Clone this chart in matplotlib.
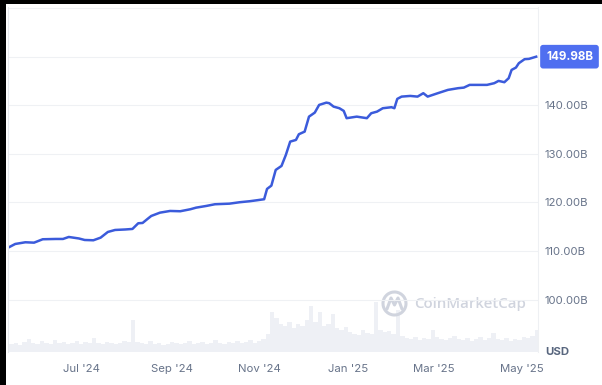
import pandas as pd
import matplotlib
matplotlib.use("Agg")
import matplotlib.pyplot as plt
from matplotlib.patches import Rectangle, Arc

# market cap (billions USD)
dates = ["2024-05-12", "2024-05-16", "2024-05-23", "2024-05-29", "2024-06-04", "2024-06-13",
         "2024-06-18", "2024-06-22", "2024-06-29", "2024-07-03", "2024-07-09", "2024-07-14",
         "2024-07-19", "2024-07-24", "2024-07-31", "2024-08-05", "2024-08-09", "2024-08-12",
         "2024-08-16", "2024-08-18", "2024-08-24", "2024-08-31", "2024-09-07", "2024-09-14",
         "2024-09-18", "2024-09-25", "2024-10-01", "2024-10-11", "2024-10-18", "2024-10-25",
         "2024-10-30", "2024-11-04", "2024-11-06", "2024-11-09", "2024-11-12", "2024-11-16",
         "2024-11-19", "2024-11-22", "2024-11-26", "2024-11-28", "2024-12-02", "2024-12-05",
         "2024-12-09", "2024-12-12", "2024-12-17", "2024-12-19", "2024-12-22", "2024-12-26",
         "2024-12-29", "2024-12-31", "2025-01-07", "2025-01-14", "2025-01-17", "2025-01-21",
         "2025-01-25", "2025-01-31", "2025-02-02", "2025-02-04", "2025-02-07", "2025-02-13",
         "2025-02-18", "2025-02-22", "2025-02-25", "2025-03-04", "2025-03-11", "2025-03-18",
         "2025-03-22", "2025-03-26", "2025-04-02", "2025-04-07", "2025-04-12", "2025-04-15",
         "2025-04-19", "2025-04-22", "2025-04-24", "2025-04-27", "2025-04-29", "2025-05-03",
         "2025-05-06", "2025-05-11"]
market_cap = [110.84, 111.46, 111.81, 111.73, 112.43, 112.49, 112.49, 112.90, 112.59, 112.28,
              112.22, 112.76, 113.93, 114.34, 114.44, 114.55, 115.72, 115.78, 116.75, 117.22,
              117.90, 118.25, 118.19, 118.60, 118.93, 119.28, 119.63, 119.75, 120.04, 120.25,
              120.45, 120.66, 122.78, 123.46, 126.69, 127.51, 129.77, 132.51, 132.86, 134.03,
              134.57, 137.65, 138.48, 140.06, 140.53, 140.41, 139.71, 139.38, 138.83, 137.33,
              137.65, 137.33, 138.35, 138.68, 139.38, 139.59, 139.38, 141.30, 141.77, 141.91,
              141.77, 142.47, 141.77, 142.47, 143.15, 143.50, 143.62, 144.18, 144.18, 144.18,
              144.53, 145.00, 144.73, 145.56, 147.26, 147.74, 148.64, 149.47, 149.53, 149.98]
last_label = "149.98B"

# volume in 3-day buckets starting 2024-05-12 (relative, billions)
volume = [40, 45, 35, 50, 65, 45, 40, 55, 45, 40, 60, 45, 50, 40, 45, 55, 40, 50, 45, 70,
          45, 40, 50, 45, 40, 45, 55, 50, 160,
          50, 45, 40, 55, 40, 45, 35, 40, 50, 45, 40, 45, 55, 40, 45, 50, 40, 45, 60, 45,
          40, 50, 45, 55, 45, 50, 60, 45, 55, 65,
          90, 200, 170, 140, 130, 150, 120, 140, 130, 160, 230, 150, 200, 130, 140, 190,
          120, 110, 125, 100, 90, 85, 110, 95, 90, 250, 110, 100, 105, 90,
          210,
          80, 70, 65, 75, 60, 70, 65, 110, 75, 65, 60, 70, 80, 65, 60, 70, 55, 65, 75, 60,
          70, 95, 65, 60, 70, 55, 65, 60, 75, 70, 80, 110]

y_ticks = [100, 110, 120, 130, 140, 150, 160]
y_labels = ["100.00B", "110.00B", "120.00B", "130.00B", "140.00B", "", ""]
x_ticks = ["2024-07-01", "2024-09-01", "2024-11-01", "2025-01-01", "2025-03-01", "2025-05-01"]
x_labels = ["Jul '24", "Sep '24", "Nov '24", "Jan '25", "Mar '25", "May '25"]

LINE = "#3b5bdb"
GRAY = "#68748a"
FONT = "Inter"

fig = plt.figure(figsize=(6.02, 3.85), dpi=100)
ax = fig.add_axes([8 / 602, 33 / 385, 530 / 602, 345 / 385])
ax2 = ax.twinx()
ax.set_zorder(ax2.get_zorder() + 1)
ax.patch.set_visible(False)

# volume bars
bar_x = pd.date_range("2024-05-12", periods=len(volume), freq="3D")
ax2.bar(bar_x, volume, width=3, align="edge", color="#eef0f5", linewidth=0)
ax2.set_ylim(0, 1725)
ax2.set_yticks([])
for s in ax2.spines.values():
    s.set_visible(False)

# market cap line
ax.plot(pd.to_datetime(dates), market_cap, color=LINE, lw=1.8, solid_joinstyle="round")
ax.set_xlim(pd.Timestamp("2024-05-11"), pd.Timestamp("2025-05-12 06:00"))
ax.set_ylim(89.24, 160.2)

ax.set_yticks(y_ticks)
ax.set_yticklabels(y_labels)
ax.yaxis.tick_right()
ax.tick_params(axis="y", length=0, pad=5, labelsize=8.2, labelcolor=GRAY)
ax.grid(axis="y", color="#eff1f4", lw=0.8)
ax.set_xticks(pd.to_datetime(x_ticks))
ax.set_xticklabels(x_labels)
ax.tick_params(axis="x", length=0, pad=9, labelsize=8.2, labelcolor=GRAY)
for lbl in ax.get_xticklabels() + ax.get_yticklabels():
    lbl.set_fontfamily(FONT)
for name in ["top", "bottom"]:
    ax.spines[name].set_visible(False)
ax.spines["right"].set_color("#eef0f3")
ax.spines["left"].set_color("#e6e8ec")

# last value badge
ax.text(1.0 + 8 / 530, market_cap[-1], last_label, transform=ax.get_yaxis_transform(),
        ha="left", va="center", fontsize=8.4, fontweight="bold", color="white", family=FONT,
        bbox=dict(boxstyle="round,pad=0.5,rounding_size=0.25", fc="#4f6ff0", ec="none"))
ax.text(1.0 + 7 / 530, -0.015, "USD", transform=ax.transAxes, ha="left", va="bottom",
        fontsize=8.2, fontweight="bold", color="#58667e", family=FONT)

# overlay in pixel coords for watermark and screenshot border
ov = fig.add_axes([0, 0, 1, 1])
ov.set_xlim(0, 602)
ov.set_ylim(385, 0)
ov.axis("off")
ov.patch.set_visible(False)
wm = "#d0d4de"
ov.add_patch(Arc((394.5, 303.5), 23, 23, theta1=-60, theta2=300, color=wm, lw=2.2))
ov.plot([387, 391, 394.5, 398, 402], [309, 298, 305, 298, 309], color=wm, lw=2.2,
        solid_capstyle="round", solid_joinstyle="round")
ov.text(414, 304, "CoinMarketCap", ha="left", va="center", fontsize=10.8, color=wm,
        family="Open Sans", fontweight="semibold")
ov.add_patch(Rectangle((0, 0), 602, 4, color="black", lw=0))
ov.add_patch(Rectangle((0, 0), 6, 385, color="black", lw=0))

fig.savefig("out.png", dpi=100)
